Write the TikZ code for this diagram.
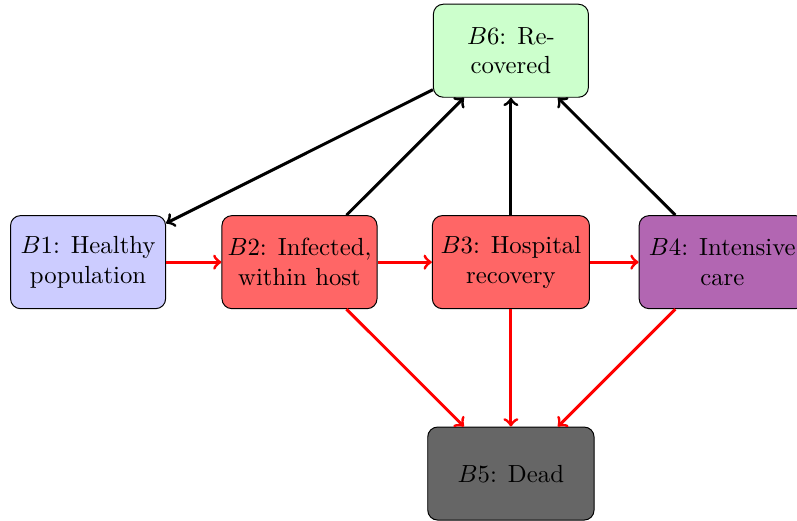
\documentclass[tikz,border=0pt]{standalone}
\begin{document}
\begin{tikzpicture}[box/.style={draw, rounded corners, align=center, minimum width=2.2cm, minimum height=1.32cm}, red arr/.style={->, very thick, red}, blk arr/.style={->, very thick}]
\useasboundingbox (-1.25,-3.66) rectangle (10.06,3.72);
\node[box, fill=blue!20] (b1) at (0,0){$B1$: Healthy\\population};
\node[box, fill=red!60, inner xsep=1.5pt] (b2) at (3,0){$B2$: Infected,\\within host};
\node[box, fill=red!60] (b3) at (6,0){$B3$: Hospital\\recovery};
\node[box, fill=violet!60, minimum width=2.36cm] (b4) at (9,0){$B4$: Intensive\\care};
\node[box, fill=black!60, minimum width=2.36cm] (b5) at (6,-3){$B5$: Dead};
\node[box, fill=green!20] (b6) at (6,3){$B6$: Re-\\covered};
\draw[red arr](b1) -- (b2);
\draw[red arr](b2) -- (b3);
\draw[red arr](b3) -- (b4);
\draw[red arr](b2) -- (b5);
\draw[red arr](b3) -- (b5);
\draw[red arr](b4) -- (b5);
\draw[blk arr](b2) -- (b6);
\draw[blk arr](b3) -- (b6);
\draw[blk arr](b4) -- (b6);
\draw[blk arr](b6) -- (b1);

\end{tikzpicture}
\end{document}
